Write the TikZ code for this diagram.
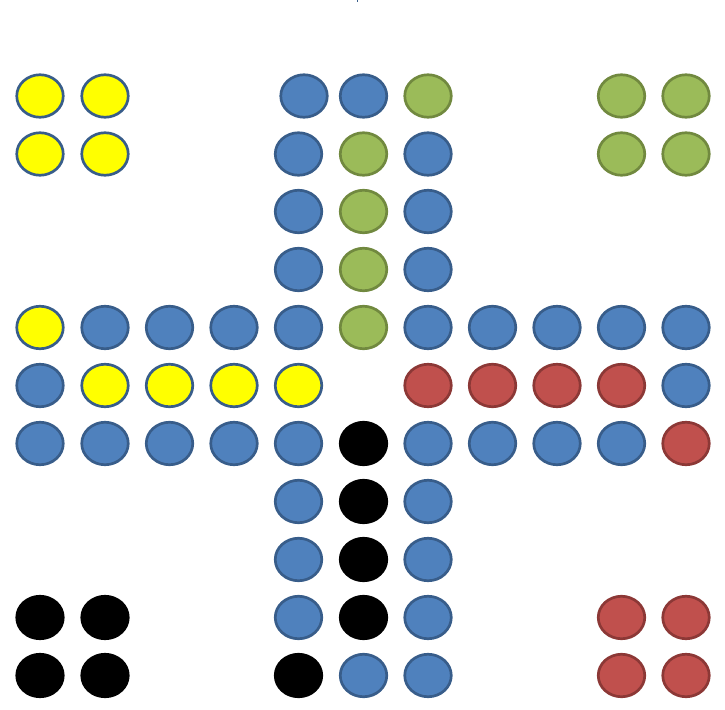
\documentclass[tikz,border=0pt]{standalone}
\usetikzlibrary{shapes.geometric}
\definecolor{bfill}{HTML}{4F81BD}
\definecolor{bline}{HTML}{385D8A}
\definecolor{gfill}{HTML}{9BBB59}
\definecolor{gline}{HTML}{71893F}
\definecolor{rfill}{HTML}{C0504D}
\definecolor{rline}{HTML}{8C3836}
\definecolor{yfill}{HTML}{FFFF00}
\tikzset{
  peg/.style={ellipse, inner sep=0pt, minimum width=46.5pt, minimum height=42.5pt, line width=2.7pt},
  B/.style={peg, fill=bfill, draw=bline},
  G/.style={peg, fill=gfill, draw=gline},
  R/.style={peg, fill=rfill, draw=rline},
  Y/.style={peg, fill=yfill, draw=bline},
  K/.style={peg, fill=black, draw=black},
}
\begin{document}
\begin{tikzpicture}[x=1pt,y=-1pt]
\useasboundingbox (0,0) rectangle (725,709);
\fill[bline] (356.5,0.5) rectangle (358,2);
\foreach \s/\x/\y/\n in {
  Y/40/96/a1, Y/105/96/a2, B/304/96/a3, B/363.5/96/a4, G/428/96/a5, G/621.5/96/a6, G/686/96/a7,
  Y/40/154/b1, Y/105/154/b2, B/298.5/154/b3, G/363.5/154/b4, B/428/154/b5, G/621.5/154/b6, G/686/154/b7,
  B/298.5/211.5/c1, G/363.5/211.5/c2, B/428/211.5/c3,
  B/298.5/269.5/d1, G/363.5/269.5/d2, B/428/269.5/d3,
  Y/40/327.5/e1, B/105/327.5/e2, B/169.5/327.5/e3, B/234/327.5/e4, B/298.5/327.5/e5, G/363.5/327.5/e6,
  B/428/327.5/e7, B/492.5/327.5/e8, B/557/327.5/e9, B/621.5/327.5/e10, B/686/327.5/e11,
  B/40/385.5/f1, Y/105/385.5/f2, Y/169.5/385.5/f3, Y/234/385.5/f4, Y/298.5/385.5/f5,
  R/428/385.5/f6, R/492.5/385.5/f7, R/557/385.5/f8, R/621.5/385.5/f9, B/686/385.5/f10,
  B/40/443.5/g1, B/105/443.5/g2, B/169.5/443.5/g3, B/234/443.5/g4, B/298.5/443.5/g5, K/363.5/443.5/g6,
  B/428/443.5/g7, B/492.5/443.5/g8, B/557/443.5/g9, B/621.5/443.5/g10, R/686/443.5/g11,
  B/298.5/501.5/h1, K/363.5/501.5/h2, B/428/501.5/h3,
  B/298.5/559.5/i1, K/363.5/559.5/i2, B/428/559.5/i3,
  K/40/617.5/j1, K/105/617.5/j2, B/298.5/617.5/j3, K/363.5/617.5/j4, B/428/617.5/j5, R/621.5/617.5/j6, R/686/617.5/j7,
  K/40/675.5/k1, K/105/675.5/k2, K/298.5/675.5/k3, B/363.5/675.5/k4, B/428/675.5/k5, R/621.5/675.5/k6, R/686/675.5/k7}
  \node[\s] (\n) at (\x,\y) {};
\end{tikzpicture}
\end{document}
